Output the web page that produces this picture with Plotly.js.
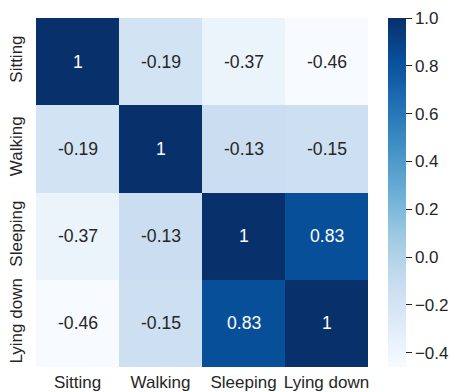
<!DOCTYPE html>
<html><head><meta charset="utf-8">
<script src="https://cdn.plot.ly/plotly-3.0.1.min.js"></script>
<style>html,body{margin:0;padding:0;background:#fff}</style>
</head><body><div id="chart" style="width:450px;height:392px"></div>
<script>
const labels = ["Sitting", "Walking", "Sleeping", "Lying down"];
const corrSitting = [1, -0.19, -0.37, -0.46];
const corrWalking = [-0.19, 1, -0.13, -0.15];
const corrSleeping = [-0.37, -0.13, 1, 0.83];
const corrLying = [-0.46, -0.15, 0.83, 1];
const cbTicks = [-0.4, -0.2, 0.0, 0.2, 0.4, 0.6, 0.8, 1.0];

const z = [corrSitting, corrWalking, corrSleeping, corrLying];
const zmin = -0.46, zmax = 1;
const blues = [[0,'#f7fbff'],[0.125,'#deebf7'],[0.25,'#c6dbef'],[0.375,'#9ecae1'],[0.5,'#6baed6'],[0.625,'#4292c6'],[0.75,'#2171b5'],[0.875,'#08519c'],[1,'#08306b']];
const FONT = 'Liberation Sans, Arial, sans-serif';

const annotations = [];
z.forEach((row, i) => row.forEach((v, j) => {
  const frac = (v - zmin) / (zmax - zmin);
  annotations.push({x: labels[j], y: labels[i], text: String(v), showarrow: false,
    font: {family: FONT, size: 17.6, color: frac > 0.6 ? '#ffffff' : '#262626'}});
}));

const trace = {type: 'heatmap', z: z, x: labels, y: labels, zmin: zmin, zmax: zmax,
  colorscale: blues, xgap: 0, ygap: 0, hoverinfo: 'skip',
  colorbar: {x: 1.06, xanchor: 'left', xpad: 0, ypad: 0, y: 0.5, yanchor: 'middle', len: 1, lenmode: 'fraction',
    thickness: 18, outlinewidth: 0, ticks: 'outside', ticklen: 6, tickwidth: 1, tickcolor: '#262626',
    tickvals: cbTicks, tickformat: '.1f', tickfont: {family: FONT, size: 17, color: '#262626'}}};

const layout = {width: 450, height: 392, margin: {l: 36, r: 82, t: 18, b: 25, autoexpand: false},
  paper_bgcolor: '#fff', plot_bgcolor: '#fff', font: {family: FONT, color: '#262626'},
  xaxis: {type: 'category', showgrid: false, zeroline: false, ticks: '', showline: false, automargin: false,
    ticklabelstandoff: 3, tickfont: {family: FONT, size: 17, color: '#262626'}},
  yaxis: {type: 'category', autorange: 'reversed', showgrid: false, zeroline: false, ticks: '', showline: false, automargin: false,
    ticklabelstandoff: 10, tickangle: -90, tickfont: {family: FONT, size: 17, color: '#262626'}},
  annotations: annotations};

Plotly.newPlot('chart', [trace], layout, {displayModeBar: false, staticPlot: true});
</script></body></html>
